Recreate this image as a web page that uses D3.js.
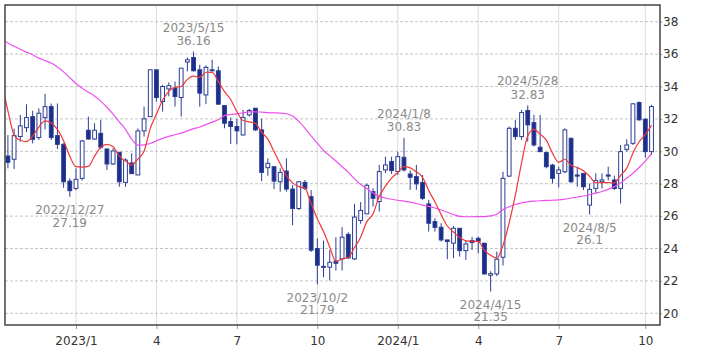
<!DOCTYPE html>
<html>
<head>
<meta charset="utf-8">
<script src="https://cdn.jsdelivr.net/npm/d3@7"></script>
<style>
  body { margin: 0; background: #fff; }
  text { font-family: "DejaVu Sans", Verdana, sans-serif; }
</style>
</head>
<body>
<div id="container"></div>
<script>
let w = 709;
let h = 354;
let plotLeft = 5, plotRight = 660, plotTop = 5, plotBottom = 325;

// weekly candles, one per monday
let firstWeek = new Date(2022, 9, 17);
let weeks = d3.timeMonday.range(firstWeek, new Date(2024, 9, 15));

let open = [29.71,29.51,30.91,31.46,32.14,30.85,32.08,32.76,30.97,30.43,28.16,27.71,28.33,31.30,30.76,31.11,30.14,29.22,29.94,28.08,
  29.28,28.54,31.26,32.14,35.03,33.07,33.85,33.90,33.32,35.51,35.79,35.03,33.48,35.03,34.97,32.82,31.84,31.53,31.01,32.25,
  32.66,31.32,28.99,29.05,28.12,28.78,27.67,26.47,28.08,27.20,24.00,22.85,22.85,23.22,23.36,24.87,23.36,25.73,26.14,27.51,
  26.90,28.85,29.37,28.75,29.63,28.60,28.44,28.07,26.75,25.66,25.31,24.53,24.33,25.25,23.87,24.49,24.63,24.33,22.35,22.43,
  23.46,28.47,31.42,30.91,32.52,31.77,30.25,29.92,29.15,28.64,28.74,30.80,28.54,28.64,26.68,27.71,28.12,28.54,28.23,27.71,
  30.12,30.49,33.01,31.98,29.98];
let high = [31.00,31.40,32.25,32.90,32.50,32.65,33.55,32.95,32.95,30.50,28.33,28.95,30.70,32.14,31.73,31.94,30.19,30.19,29.94,29.57,
  29.88,31.42,32.76,35.03,35.03,34.10,34.25,34.31,35.13,35.79,36.16,35.34,35.30,35.65,35.24,32.82,32.08,32.00,32.56,32.62,
  32.66,32.00,29.57,29.05,28.95,29.57,27.92,28.16,28.23,27.61,24.62,24.49,23.90,24.70,25.32,25.01,26.76,26.87,28.00,27.72,
  29.16,29.67,29.67,29.98,30.83,28.81,29.16,28.54,27.00,25.87,25.56,24.53,25.40,25.25,24.49,24.70,24.74,24.33,22.60,23.81,
  28.74,31.53,31.94,32.56,32.83,32.25,32.25,29.98,29.22,29.05,31.42,30.85,29.05,28.64,28.02,28.64,28.64,29.05,28.50,30.39,
  30.74,32.97,33.07,32.04,32.87];
let low = [28.95,28.91,30.60,31.18,30.49,30.70,31.35,30.70,30.14,27.75,27.19,27.60,28.20,30.70,30.70,30.14,28.85,29.15,27.81,27.81,
  28.62,28.54,30.91,32.14,33.07,32.45,33.40,32.76,32.14,34.93,34.93,32.76,32.91,34.93,32.87,31.42,30.45,30.43,30.97,32.14,
  31.26,28.16,28.49,27.67,27.51,27.51,25.44,26.37,27.61,23.79,21.79,22.23,22.02,22.64,22.64,23.36,23.30,25.53,26.14,26.59,
  26.28,28.65,28.60,28.54,28.75,27.62,27.62,27.00,25.05,25.05,24.43,23.34,23.40,23.50,23.30,23.91,23.71,22.40,21.35,22.30,
  22.95,28.43,30.70,30.70,30.60,30.30,29.98,28.95,28.02,27.77,28.64,28.06,27.81,27.61,26.10,27.40,27.71,28.20,27.61,26.78,
  29.98,30.39,31.90,29.60,29.77];
let close = [29.32,30.97,31.57,32.08,30.74,32.35,32.76,30.85,30.43,28.12,27.57,28.27,30.64,30.76,31.30,30.25,29.22,30.02,28.12,29.46,
  28.62,31.26,32.00,35.03,33.32,34.00,34.05,33.38,35.13,35.65,34.97,33.59,35.18,34.97,32.91,31.73,31.53,31.26,32.08,32.52,
  31.32,28.70,29.26,28.16,28.70,27.67,26.47,28.12,27.71,23.90,22.97,22.90,23.15,23.09,24.70,23.42,25.94,26.35,27.90,27.10,
  28.75,29.16,28.81,29.67,28.85,28.40,27.99,27.10,25.56,25.31,24.53,24.43,25.25,23.87,24.28,24.37,24.43,22.43,22.45,23.34,
  28.33,31.42,30.91,32.39,31.63,30.39,29.98,29.05,28.33,28.85,31.32,28.12,28.47,27.81,27.65,28.19,28.23,28.47,27.71,29.98,
  30.39,32.93,31.94,29.98,32.76];

// moving averages, first value is one week before the first candle (clipped off)
let maShort = [34.30,32.50,31.00,30.68,30.60,30.94,31.50,31.88,31.74,31.35,30.65,29.70,29.05,29.02,29.07,29.70,30.24,30.43,30.28,29.70,
  29.40,29.15,29.52,30.00,31.40,32.30,33.15,33.70,33.95,34.00,34.44,34.64,34.56,34.88,34.87,34.32,33.68,33.20,32.45,31.90,
  31.82,31.72,31.18,30.75,29.99,29.23,28.50,28.05,27.82,27.73,26.77,25.83,25.05,24.10,23.20,23.36,23.45,24.06,24.70,25.66,
  26.14,27.21,27.85,28.34,28.70,29.05,28.98,28.74,28.40,27.58,26.87,26.10,25.39,25.02,24.68,24.47,24.44,24.44,23.88,23.59,
  23.40,24.20,25.59,27.29,29.28,30.94,31.35,31.06,30.69,29.88,29.32,29.51,29.13,29.00,28.80,28.45,28.05,28.07,28.07,28.05,
  28.52,28.96,29.90,30.59,31.04,31.60];
let maLong = [36.90,36.68,36.48,36.30,36.12,35.96,35.75,35.60,35.45,35.20,34.90,34.55,34.18,33.90,33.65,33.42,33.10,32.72,32.30,31.82,
  31.35,30.75,30.38,30.40,30.48,30.65,30.80,30.92,31.02,31.12,31.26,31.40,31.50,31.65,31.80,31.95,32.20,32.27,32.31,32.38,
  32.43,32.44,32.42,32.39,32.37,32.36,32.32,32.18,31.85,31.42,30.95,30.50,30.05,29.72,29.40,29.05,28.70,28.30,27.95,27.70,
  27.42,27.22,27.12,27.04,26.98,26.93,26.86,26.78,26.68,26.60,26.50,26.38,26.24,26.10,25.98,25.96,25.96,25.97,25.97,26.02,
  26.12,26.40,26.58,26.72,26.82,26.88,26.92,26.95,26.97,26.98,27.00,27.05,27.12,27.18,27.24,27.32,27.42,27.52,27.65,27.82,
  28.05,28.35,28.65,29.00,29.40,29.85];

let yTicks = [20, 22, 24, 26, 28, 30, 32, 34, 36, 38];
let xTickDates = ["2023-01-02", "2023-04-03", "2023-07-03", "2023-10-02", "2024-01-01", "2024-04-01", "2024-07-01", "2024-10-07"];
let xTickLabels = ["2023/1", "4", "7", "10", "2024/1", "4", "7", "10"];

let noteWeeks = ["2022-12-26", "2023-05-15", "2023-10-02", "2024-01-08", "2024-04-15", "2024-05-27", "2024-08-05"];
let noteLabels = ["2022/12/27", "2023/5/15", "2023/10/2", "2024/1/8", "2024/4/15", "2024/5/28", "2024/8/5"];
let noteValues = [27.19, 36.16, 21.79, 30.83, 21.35, 32.83, 26.1];
let noteSide = ["low", "high", "low", "high", "low", "high", "low"];

let parse = d3.timeParse("%Y-%m-%d");
function weekIndex(s) {
  return d3.timeMonday.count(firstWeek, parse(s));
}

let x = d3.scaleLinear().domain([-0.47, 105.37]).range([plotLeft, plotRight]);
let y = d3.scaleLinear().domain([19.28, 39.03]).range([plotBottom, plotTop]);

let viz = d3.select("#container").append("svg")
  .attr("width", w)
  .attr("height", h)
  .style("display", "block")
  .style("background", "#fff");

viz.append("clipPath").attr("id", "plot")
  .append("rect").attr("x", plotLeft).attr("y", plotTop)
  .attr("width", plotRight - plotLeft).attr("height", plotBottom - plotTop);

// grid
let tickIdx = xTickDates.map(weekIndex);
viz.append("g").selectAll("line").data(tickIdx).enter().append("line")
  .attr("x1", d => x(d)).attr("x2", d => x(d))
  .attr("y1", plotTop).attr("y2", plotBottom)
  .attr("stroke", "#dcdcdc").attr("stroke-width", 1);
viz.append("g").selectAll("line").data(yTicks).enter().append("line")
  .attr("x1", plotLeft).attr("x2", plotRight)
  .attr("y1", d => y(d)).attr("y2", d => y(d))
  .attr("stroke", "#c4c4c4").attr("stroke-width", 1)
  .attr("stroke-dasharray", "3,2");

// axes
let xAxis = d3.axisBottom(x).tickValues(tickIdx)
  .tickFormat((d, i) => xTickLabels[i]).tickSize(4).tickPadding(7);
let xAxisGroup = viz.append("g").attr("transform", "translate(0," + plotBottom + ")").call(xAxis);
let yAxis = d3.axisRight(y).tickValues(yTicks).tickSize(2).tickPadding(1);
let yAxisGroup = viz.append("g").attr("transform", "translate(" + plotRight + ",0)").call(yAxis);
[xAxisGroup, yAxisGroup].forEach(g => {
  g.select(".domain").remove();
  g.selectAll("line").attr("stroke", "#999");
  g.selectAll("text").attr("fill", "#333").style("font-size", "12px")
    .style("font-family", "'DejaVu Sans', Verdana, sans-serif");
});

// candles
let candles = viz.append("g").attr("clip-path", "url(#plot)");
let bw = 3.8;
let idx = d3.range(close.length);
candles.selectAll(".wick").data(idx).enter().append("line").attr("class", "wick")
  .attr("x1", i => x(i)).attr("x2", i => x(i))
  .attr("y1", i => y(high[i])).attr("y2", i => y(low[i]))
  .attr("stroke", "#2b3d93").attr("stroke-width", 1);
candles.selectAll(".body").data(idx).enter().append("rect").attr("class", "body")
  .attr("x", i => x(i) - bw / 2)
  .attr("y", i => y(Math.max(open[i], close[i])))
  .attr("width", bw)
  .attr("height", i => Math.max(1, Math.abs(y(open[i]) - y(close[i]))))
  .attr("fill", i => close[i] >= open[i] ? "#fff" : "#1c2e8c")
  .attr("stroke", "#2b3d93").attr("stroke-width", 1);

// moving averages
let maLine = d3.line().x((d, i) => x(i - 1)).y(d => y(d)).curve(d3.curveMonotoneX);
let lines = viz.append("g").attr("clip-path", "url(#plot)");
lines.append("path").datum(maLong).attr("d", maLine)
  .attr("fill", "none").attr("stroke", "#ee50ee").attr("stroke-width", 1.2);
lines.append("path").datum(maShort).attr("d", maLine)
  .attr("fill", "none").attr("stroke", "#f03838").attr("stroke-width", 1.2);

// plot frame
viz.append("rect").attr("x", plotLeft).attr("y", plotTop)
  .attr("width", plotRight - plotLeft).attr("height", plotBottom - plotTop)
  .attr("fill", "none").attr("stroke", "#444").attr("stroke-width", 1.5);

// high / low notes
noteWeeks.forEach((s, k) => {
  let cx = x(weekIndex(s));
  let cy = y(noteValues[k]);
  let y1, y2;
  if (noteSide[k] == "high") { y1 = cy - 24.4; y2 = cy - 11.2; }
  else { y1 = cy + 12.8; y2 = cy + 25.5; }
  [[noteLabels[k], y1], [String(noteValues[k]), y2]].forEach(t => {
    viz.append("text").attr("x", cx).attr("y", t[1] + 4.4)
      .attr("text-anchor", "middle").attr("fill", "#8a8a8a")
      .style("font-size", "12px").text(t[0]);
  });
});
</script>
</body>
</html>
